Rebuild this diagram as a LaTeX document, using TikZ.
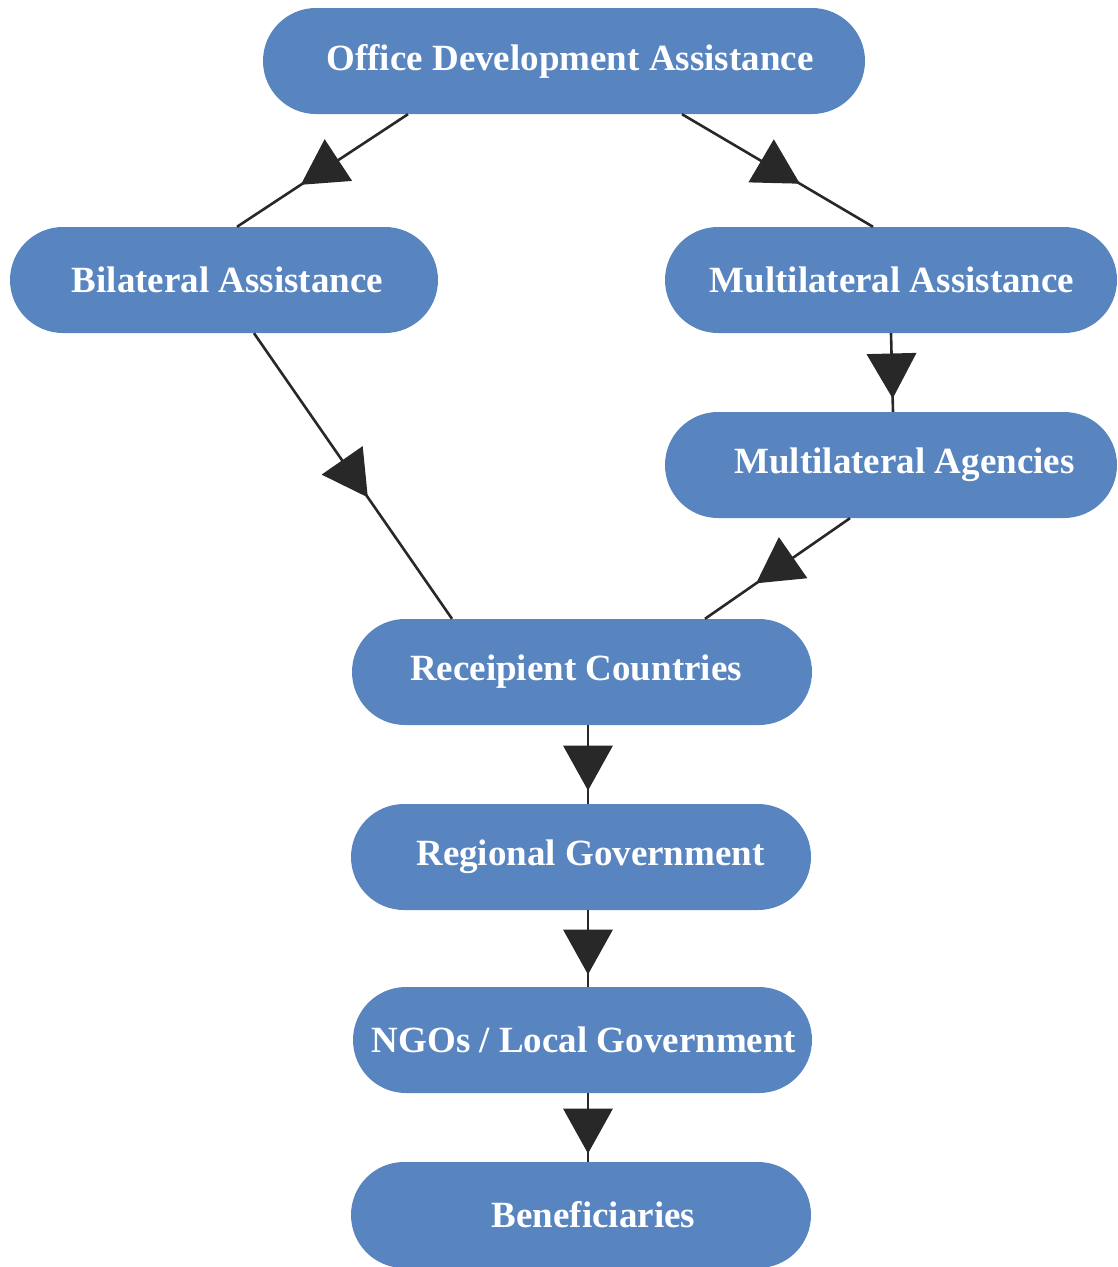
\documentclass[tikz,border=0pt]{standalone}
\usepackage{fontspec}
\setmainfont{Liberation Serif}
\usetikzlibrary{calc,decorations.markings}
\definecolor{boxblue}{RGB}{88,132,192}
\definecolor{linedark}{RGB}{40,40,40}
\begin{document}
\begin{tikzpicture}[x=1pt,y=-1pt,
  flowbox/.style={rectangle, rounded corners=53pt, fill=boxblue, draw=none,
    minimum height=106pt, inner sep=0pt, text=white,
    font=\fontsize{37}{40}\selectfont\bfseries},
  flowedge/.style={draw=linedark, line width=2.6pt,
    postaction={decorate},
    decoration={markings, mark=at position 0.5 with {
      \fill[linedark] (26,0) -- (-19,25) -- (-19,-25) -- cycle;}}}]
\useasboundingbox (0,0) rectangle (1118,1267);

\node[flowbox, minimum width=602pt] (oda) at (564,61) {\hspace*{12pt}Office Development Assistance};
\node[flowbox, minimum width=428pt] (bil) at (224,280) {\hspace*{7pt}Bilateral Assistance};
\node[flowbox, minimum width=452pt] (ma) at (891,280) {\hspace*{2pt}Multilateral Assistance};
\node[flowbox, minimum width=452pt] (mag) at (891,465) {\hspace*{27pt}Multilateral Agencies};
\node[flowbox, minimum width=460pt] (rec) at (582,672) {\hspace*{-12pt}Receipient Countries};
\node[flowbox, minimum width=460pt] (reg) at (581,857) {\hspace*{19pt}Regional Government};
\node[flowbox, minimum width=459pt] (ngo) at (582.5,1040) {\hspace*{3pt}NGOs / Local Government};
\node[flowbox, minimum width=460pt] (ben) at (581,1215) {\hspace*{25pt}Beneficiaries};

\path[flowedge] ($(oda.south)+(-156,0)$) -- ($(bil.north)+(13,0)$);
\path[flowedge] ($(oda.south)+(118,0)$) -- ($(ma.north)+(-18,0)$);
\path[flowedge] (ma.south) -- ($(mag.north)+(2,0)$);
\path[flowedge] ($(bil.south)+(30,0)$) -- ($(rec.north)+(-130,0)$);
\path[flowedge] ($(mag.south)+(-41,0)$) -- ($(rec.north)+(123,0)$);
\path[flowedge] ($(rec.south)+(6,0)$) -- ($(reg.north)+(7,0)$);
\path[flowedge] ($(reg.south)+(7,0)$) -- ($(ngo.north)+(5.5,0)$);
\path[flowedge] ($(ngo.south)+(5.5,0)$) -- ($(ben.north)+(7,0)$);
\end{tikzpicture}
\end{document}
